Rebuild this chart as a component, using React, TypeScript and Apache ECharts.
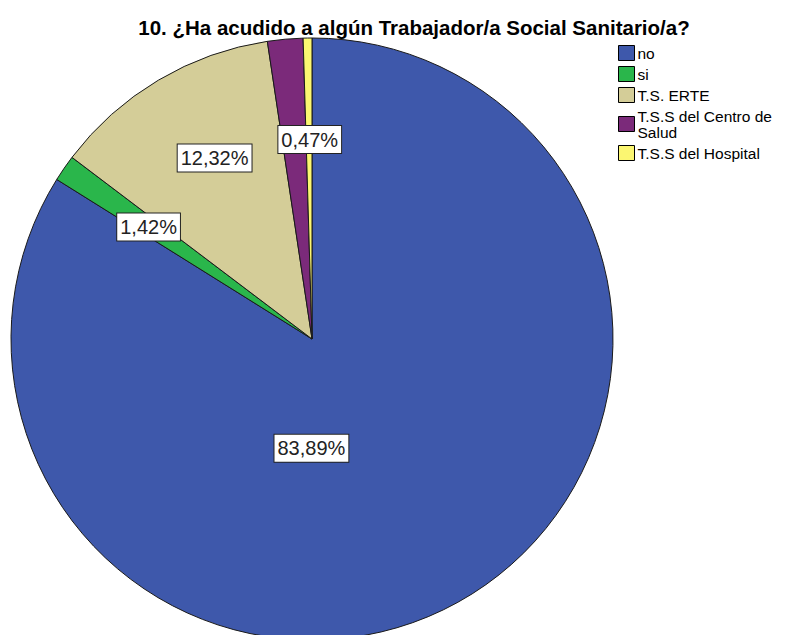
import React, { useEffect, useRef } from "react";
import * as echarts from "echarts";

const titleText = "10. ¿Ha acudido a algún Trabajador/a Social Sanitario/a?";
const categories = ["no", "si", "T.S. ERTE", "T.S.S del Centro de Salud", "T.S.S del Hospital"];
const values = [83.89, 1.42, 12.32, 1.9, 0.47];
const colors = ["#3e58ab", "#2ab64b", "#d4cd98", "#7b2a7a", "#fbf671"];
const showLabel = [true, true, true, false, true];
const labelOffsets: [number, number][] = [[-75, -25], [-37, -25], [-19, -49], [0, 0], [0, -46]];

export default function App() {
  const ref = useRef<HTMLDivElement>(null);
  useEffect(() => {
    if (!ref.current) return;
    const chart = echarts.init(ref.current, undefined, { renderer: "svg" });
    chart.setOption({
      animation: false,
      backgroundColor: "#ffffff",
      title: {
        text: titleText,
        left: 409,
        textAlign: "center",
        top: 12,
        textStyle: { fontFamily: "Liberation Sans", fontSize: 20.5, fontWeight: "bold", color: "#000" },
      },
      legend: {
        orient: "vertical",
        left: 613,
        top: 40,
        itemWidth: 16,
        itemHeight: 15,
        itemGap: 5,
        icon: "rect",
        itemStyle: { borderColor: "#000", borderWidth: 1 },
        textStyle: { fontFamily: "Liberation Sans", fontSize: 15.5, color: "#000", lineHeight: 16, padding: [0, 0, 0, -2] },
        formatter: (name: string) => (name === "T.S.S del Centro de Salud" ? "T.S.S del Centro de\nSalud" : name),
        data: categories,
      },
      series: [
        {
          type: "pie",
          center: [312, 339],
          radius: 301,
          startAngle: 90,
          clockwise: true,
          avoidLabelOverlap: false,
          labelLine: { show: false },
          itemStyle: { borderColor: "#1a1a1a", borderWidth: 1 },
          emphasis: { disabled: true },
          data: categories.map((name, i) => ({
            name,
            value: values[i],
            itemStyle: { color: colors[i] },
            label: {
              show: showLabel[i],
              position: "inside",
              offset: labelOffsets[i],
              formatter: values[i].toFixed(2).replace(".", ",") + "%",
              fontFamily: "Liberation Sans",
              fontSize: 20,
              color: "#222",
              backgroundColor: "#ffffff",
              borderColor: "#222",
              borderWidth: 1,
              padding: [4, 3, 3, 3],
            },
          })),
        },
      ],
    });
    return () => chart.dispose();
  }, []);
  return <div ref={ref} style={{ position: "fixed", left: 0, top: 0, width: 787, height: 635 }} />;
}
